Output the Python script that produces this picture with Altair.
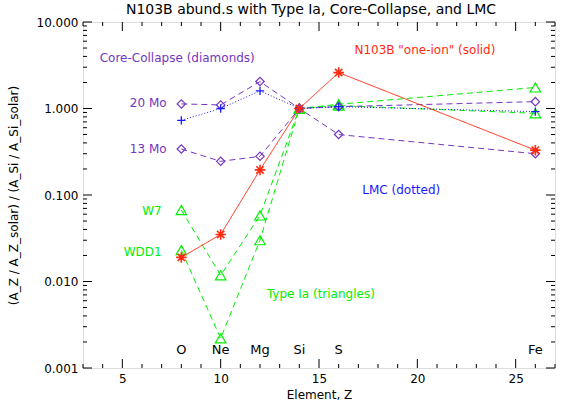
import altair as alt
import pandas as pd

# Data
elements = ["O", "Ne", "Mg", "Si", "S", "Fe"]
Z = [8, 10, 12, 14, 16, 26]
cc20 = [1.13, 1.10, 2.05, 1.0, 1.05, 1.20]
cc13 = [0.34, 0.245, 0.28, 1.0, 0.50, 0.30]
lmc = [0.73, 1.0, 1.6, 1.0, 1.05, 0.92]
w7 = [0.067, 0.0118, 0.058, 1.0, 1.12, 1.75]
wdd1 = [0.023, 0.0022, 0.030, 1.0, 1.08, 0.88]
n103b = [0.019, 0.035, 0.195, 1.0, 2.6, 0.33]
title_text = "N103B abund.s with Type Ia, Core-Collapse, and LMC"

x_major = [5, 10, 15, 20, 25]
x_minor = [z for z in range(3, 28) if z not in x_major]
y_major = [0.001, 0.01, 0.1, 1.0, 10.0]
y_minor = [m * d for d in [0.001, 0.01, 0.1, 1.0] for m in range(2, 10)]

W, H = 472, 346
PURPLE = "#7436c0"
GREEN = "#00ee00"
BLUE = "#1a1aff"
RED = "#ff2a10"
FONT = "DejaVu Sans"

xs = alt.Scale(domain=[3, 27], nice=False, zero=False)
ys = alt.Scale(type="log", domain=[0.001, 10], nice=False)
xaxis = alt.Axis(values=x_major, ticks=False, domain=False, grid=False, labelFontSize=12,
                 labelPadding=5, title="Element, Z", titleFontSize=12, titleFontWeight="normal",
                 titlePadding=5, labelFont=FONT, titleFont=FONT, labelColor="black", titleColor="black")
yaxis = alt.Axis(values=y_major, format=".3f", ticks=False, domain=False, grid=False, labelFontSize=12,
                 labelPadding=5, title="(A_Z / A_Z_solar) / (A_Si / A_Si_solar)", titleFontSize=12,
                 titleFontWeight="normal", titlePadding=16, labelFont=FONT, titleFont=FONT,
                 labelColor="black", titleColor="black")

X = alt.X("Z:Q", scale=xs, axis=xaxis)
Y = alt.Y("v:Q", scale=ys, axis=yaxis)

def series(vals, color, dash, shape, size, sw=1.0, psw=1.2):
    df = pd.DataFrame({"Z": Z, "v": vals})
    line = alt.Chart(df).mark_line(color=color, strokeDash=dash, strokeWidth=sw).encode(x=X, y=Y)
    pts = alt.Chart(df).mark_point(shape=shape, color=color, size=size, filled=False,
                                   strokeWidth=psw, opacity=1).encode(x=X, y=Y)
    return [line, pts]

PLUS = "M-1,0L1,0M0,-1L0,1"
AST = "M-1,0L1,0M0,-1L0,1M-0.7,-0.7L0.7,0.7M-0.7,0.7L0.7,-0.7"

layers = []
layers += series(w7, GREEN, [6, 4], "triangle-up", 110)
layers += series(wdd1, GREEN, [6, 4], "triangle-up", 110)
layers += series(cc20, PURPLE, [6, 4], "diamond", 70)
layers += series(cc13, PURPLE, [6, 4], "diamond", 70)
layers += series(lmc, BLUE, [1, 2], PLUS, 70, psw=1.3)
layers += series(n103b, RED, [1, 0], AST, 110, psw=1.6)

# element labels
el_df = pd.DataFrame({"Z": Z, "v": [0.0016] * len(Z), "t": elements})
layers.append(alt.Chart(el_df).mark_text(fontSize=13, font=FONT, color="black", baseline="middle")
              .encode(x=X, y=Y, text="t:N"))

# annotations
ann = [
    ("Core-Collapse (diamonds)", 3.85, 3.85, PURPLE, "left"),
    ("20 Mo", 7.25, 1.16, PURPLE, "right"),
    ("13 Mo", 7.25, 0.34, PURPLE, "right"),
    ("W7", 7.0, 0.066, GREEN, "right"),
    ("WDD1", 7.0, 0.022, GREEN, "right"),
    ("Type Ia (triangles)", 12.35, 0.0072, GREEN, "left"),
    ("LMC (dotted)", 17.2, 0.115, BLUE, "left"),
    ('N103B "one-ion" (solid)', 16.8, 4.7, RED, "left"),
]
for t, zx, vy, c, al in ann:
    d = pd.DataFrame({"Z": [zx], "v": [vy], "t": [t]})
    layers.append(alt.Chart(d).mark_text(fontSize=12, font=FONT, color=c, align=al, baseline="middle")
                  .encode(x=X, y=Y, text="t:N"))

# title as text above the plot
tdf = pd.DataFrame({"t": [title_text]})
layers.append(alt.Chart(tdf).mark_text(fontSize=14, font=FONT, color="black", align="center",
                                       baseline="middle")
              .encode(x=alt.value(W / 2 - 8), y=alt.value(-12), text="t:N"))

# inward ticks on all four sides
def xt(vals, ln):
    d = pd.DataFrame({"Z": vals})
    return [
        alt.Chart(d).mark_rule(color="black", strokeWidth=1).encode(x=X, y=alt.value(H), y2=alt.value(H - ln)),
        alt.Chart(d).mark_rule(color="black", strokeWidth=1).encode(x=X, y=alt.value(0), y2=alt.value(ln)),
    ]

def yt(vals, ln):
    d = pd.DataFrame({"v": vals})
    return [
        alt.Chart(d).mark_rule(color="black", strokeWidth=1).encode(y=Y, x=alt.value(0), x2=alt.value(ln)),
        alt.Chart(d).mark_rule(color="black", strokeWidth=1).encode(y=Y, x=alt.value(W), x2=alt.value(W - ln)),
    ]

layers += xt(x_major, 9) + xt(x_minor, 4) + yt(y_major, 9) + yt(y_minor, 4)

chart = alt.layer(*layers).properties(
    width=W, height=H,
    autosize=alt.AutoSizeParams(type="none"),
    padding={"left": 83, "top": 22, "right": 10, "bottom": 43},
).configure_view(stroke="black", strokeWidth=1.5).configure(background="white")

chart.save("out.html", embed_options={"renderer": "svg", "actions": False})
